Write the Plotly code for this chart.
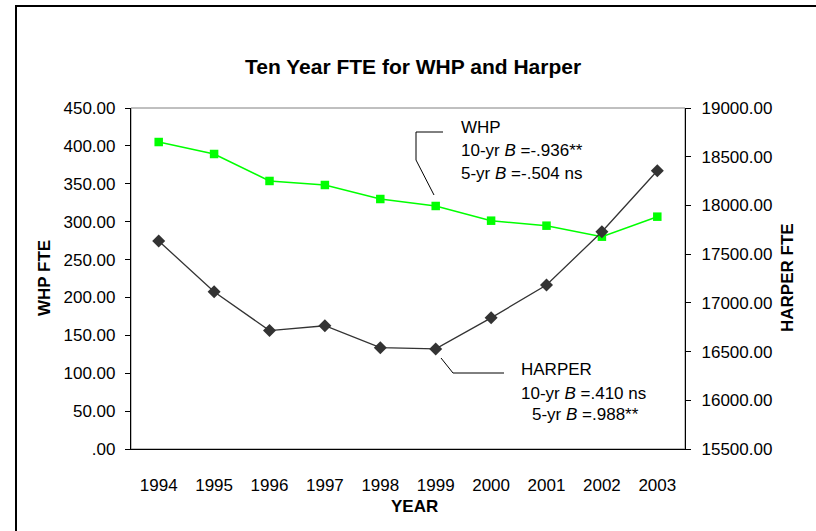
import plotly.graph_objects as go

years = ["1994", "1995", "1996", "1997", "1998", "1999", "2000", "2001", "2002", "2003"]
whp_fte = [405.1, 389.3, 353.7, 348.4, 329.9, 320.7, 301.3, 294.7, 280.2, 306.6]
harper_fte = [17635, 17114, 16715, 16765, 16540, 16527, 16846, 17183, 17730, 18356]

left_tickvals = [0, 50, 100, 150, 200, 250, 300, 350, 400, 450]
left_ticktext = [".00", "50.00", "100.00", "150.00", "200.00", "250.00", "300.00", "350.00", "400.00", "450.00"]
right_tickvals = [15500, 16000, 16500, 17000, 17500, 18000, 18500, 19000]
right_ticktext = ["15500.00", "16000.00", "16500.00", "17000.00", "17500.00", "18000.00", "18500.00", "19000.00"]

FONT = "Liberation Sans, Arial, sans-serif"
FS = 17
W, H = 816, 531
L, R, T, B = 131, 685, 108, 449

def px(xp):
    return (xp - L) / (R - L)

def py(yp):
    return (B - yp) / (B - T)

xi = list(range(len(years)))
bounds = [i + 0.5 for i in range(len(years) - 1)]

fig = go.Figure()
fig.add_trace(go.Scatter(
    x=xi, y=whp_fte, mode="lines+markers", name="WHP",
    line=dict(color="#00FF00", width=1.5),
    marker=dict(symbol="square", size=8.5, color="#00FF00"),
    xaxis="x", yaxis="y"))
fig.add_trace(go.Scatter(
    x=xi, y=harper_fte, mode="lines+markers", name="HARPER",
    line=dict(color="#333333", width=1.3),
    marker=dict(symbol="diamond", size=10, color="#333333"),
    xaxis="x", yaxis="y2"))

tickfont = dict(family=FONT, size=FS, color="black")
common_x = dict(range=[-0.5, 9.5], showgrid=False, zeroline=False, fixedrange=True)

fig.update_layout(
    width=W, height=H,
    margin=dict(l=L, r=W - R, t=T, b=H - B),
    paper_bgcolor="white", plot_bgcolor="white",
    showlegend=False,
    font=dict(family=FONT, size=FS, color="black"),
    xaxis=dict(**common_x, tickvals=xi, ticktext=years, ticks="",
               showline=True, linecolor="black", linewidth=1.2,
               tickfont=tickfont, ticklabelstandoff=20),
    xaxis2=dict(**common_x, overlaying="x", anchor="y", side="bottom",
                tickvals=bounds, ticks="outside", ticklen=5, tickcolor="black",
                showticklabels=False, showline=False),
    xaxis3=dict(**common_x, overlaying="x", anchor="y", side="bottom",
                tickvals=bounds, ticks="inside", ticklen=6, tickcolor="black",
                showticklabels=False, showline=False),
    yaxis=dict(range=[0, 450], tickvals=left_tickvals, ticktext=left_ticktext,
               ticks="outside", ticklen=5, tickcolor="black",
               showline=True, linecolor="black", linewidth=1.2,
               showgrid=False, zeroline=False, tickfont=tickfont,
               ticklabelstandoff=6, fixedrange=True),
    yaxis2=dict(range=[15500, 19000], tickvals=right_tickvals, ticktext=right_ticktext,
                overlaying="y", side="right", anchor="x",
                ticks="outside", ticklen=5, tickcolor="black",
                showline=True, linecolor="black", linewidth=1.2,
                showgrid=False, zeroline=False, tickfont=tickfont,
                ticklabelstandoff=7, fixedrange=True),
    yaxis3=dict(range=[0, 450], tickvals=left_tickvals, overlaying="y", side="left",
                anchor="x", ticks="inside", ticklen=6, tickcolor="black",
                showticklabels=False, showline=False, showgrid=False,
                zeroline=False, fixedrange=True),
    yaxis4=dict(range=[15500, 19000], tickvals=right_tickvals, overlaying="y",
                side="right", anchor="x", ticks="inside", ticklen=6,
                tickcolor="black", showticklabels=False, showline=False,
                showgrid=False, zeroline=False, fixedrange=True),
)

shapes = [
    dict(type="rect", xref="paper", yref="paper", x0=0, x1=1, y0=0, y1=1,
         line=dict(color="#808080", width=1), layer="below"),
    dict(type="rect", xref="paper", yref="paper",
         x0=px(16), x1=px(W + 20), y0=py(H + 20), y1=py(6),
         line=dict(color="black", width=2)),
    dict(type="path", xref="paper", yref="paper",
         path=f"M {px(443)} {py(132)} L {px(416)} {py(132)} L {px(416)} {py(160)} L {px(434)} {py(195)}",
         line=dict(color="black", width=1)),
    dict(type="path", xref="paper", yref="paper",
         path=f"M {px(441)} {py(358)} L {px(453)} {py(373)} L {px(504)} {py(373)}",
         line=dict(color="black", width=1)),
]
fig.update_layout(shapes=shapes)

ann = []
def text(s, x, y, size=FS, bold=False, angle=0, xanchor="left"):
    ann.append(dict(text=(f"<b>{s}</b>" if bold else s), xref="paper", yref="paper",
                    x=px(x), y=py(y), xanchor=xanchor, yanchor="middle",
                    showarrow=False, textangle=angle,
                    font=dict(family=FONT, size=size, color="black")))

text("Ten Year FTE for WHP and Harper", 413, 66, size=21, bold=True, xanchor="center")
text("WHP FTE", 44, 278, bold=True, angle=-90, xanchor="center")
text("HARPER FTE", 787, 278, bold=True, angle=-90, xanchor="center")
text("YEAR", 414, 506, bold=True, xanchor="center")

text("WHP", 459, 128)
text("10-yr <i>B</i> =-.936**", 459, 150)
text("5-yr <i>B</i> =-.504 ns", 459, 173)
text("HARPER", 519, 369)
text("10-yr <i>B</i> =.410 ns", 519, 393)
text("5-yr <i>B</i> =.988**", 530, 414)

fig.update_layout(annotations=ann)
fig.write_html("out.html", config={"displayModeBar": False},
               post_script="document.body.style.margin='0';")
